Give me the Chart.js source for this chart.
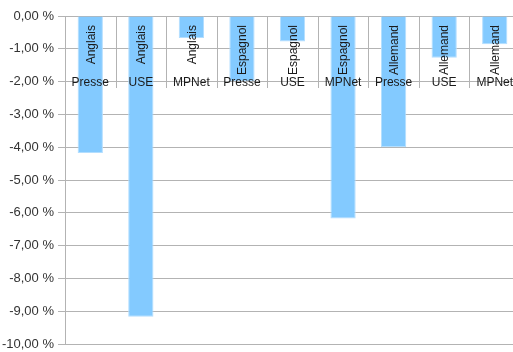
<!DOCTYPE html>
<html>
<head>
<meta charset="utf-8">
<script src="https://cdn.jsdelivr.net/npm/chart.js@4/dist/chart.umd.min.js"></script>
<style>
html,body{margin:0;padding:0;background:#fff;overflow:hidden;}
#wrap{width:520px;height:352px;}
</style>
</head>
<body>
<div id="wrap"><canvas id="c" width="520" height="352"></canvas></div>
<script>
const languages = ["Anglais","Anglais","Anglais","Espagnol","Espagnol","Espagnol","Allemand","Allemand","Allemand"];
const methods = ["Presse","USE","MPNet","Presse","USE","MPNet","Presse","USE","MPNet"];
const values = [-4.18,-9.17,-0.67,-1.98,-0.78,-6.17,-4.0,-1.27,-0.86];
const yTicks = [0,-1,-2,-3,-4,-5,-6,-7,-8,-9,-10];

const labelPlugin = {
  id:'catLabels',
  afterDatasetsDraw(chart){
    const ctx = chart.ctx, x = chart.scales.x, area = chart.chartArea;
    const n = methods.length;
    const step = (area.right - area.left) / n;
    ctx.save();
    ctx.strokeStyle = '#b3b3b3';
    ctx.lineWidth = 1;
    for(let i=1;i<=n;i++){
      const bx = Math.round(area.left + i*step) + 0.5;
      ctx.beginPath();
      ctx.moveTo(bx, area.top);
      ctx.lineTo(bx, area.top + 72);
      ctx.stroke();
    }
    ctx.fillStyle = '#1a1a1a';
    ctx.font = '12px "Liberation Sans", Arial, sans-serif';
    for(let i=0;i<n;i++){
      const cx = x.getPixelForValue(i);
      ctx.save();
      ctx.translate(cx+1, area.top + 9);
      ctx.rotate(-Math.PI/2);
      ctx.textAlign = 'right';
      ctx.textBaseline = 'middle';
      ctx.fillText(languages[i], 0, 0);
      ctx.restore();
      ctx.textAlign = 'center';
      ctx.textBaseline = 'middle';
      ctx.fillText(methods[i], cx, area.top + 67);
    }
    ctx.restore();
  }
};

new Chart(document.getElementById('c'), {
  type:'bar',
  data:{
    labels: methods.map((m,i)=>languages[i]+' '+m),
    datasets:[{
      data: values,
      backgroundColor:'#83caff',
      borderColor:'#b3deff',
      borderWidth:1,
      categoryPercentage:1,
      barPercentage:0.5
    }]
  },
  options:{
    responsive:false,
    animation:false,
    layout:{padding:{top:16,bottom:8,left:0,right:0}},
    plugins:{legend:{display:false},tooltip:{enabled:false}},
    scales:{
      x:{display:false},
      y:{
        min:-10,max:0,
        afterFit(s){ s.width = 65; s.paddingTop = 0; s.paddingBottom = 0; },
        afterBuildTicks(s){ s.ticks = yTicks.map(v=>({value:v})); },
        ticks:{
          color:'#333333',
          font:{family:'"Liberation Sans", Arial, sans-serif',size:13},
          padding:4,
          callback:(v)=>v.toFixed(2).replace('.',',').replace('-0,00','0,00')+' %'
        },
        grid:{color:'#b3b3b3',tickLength:7,tickColor:'#b3b3b3'},
        border:{color:'#b3b3b3'}
      }
    }
  },
  plugins:[labelPlugin]
});
</script>
</body>
</html>
